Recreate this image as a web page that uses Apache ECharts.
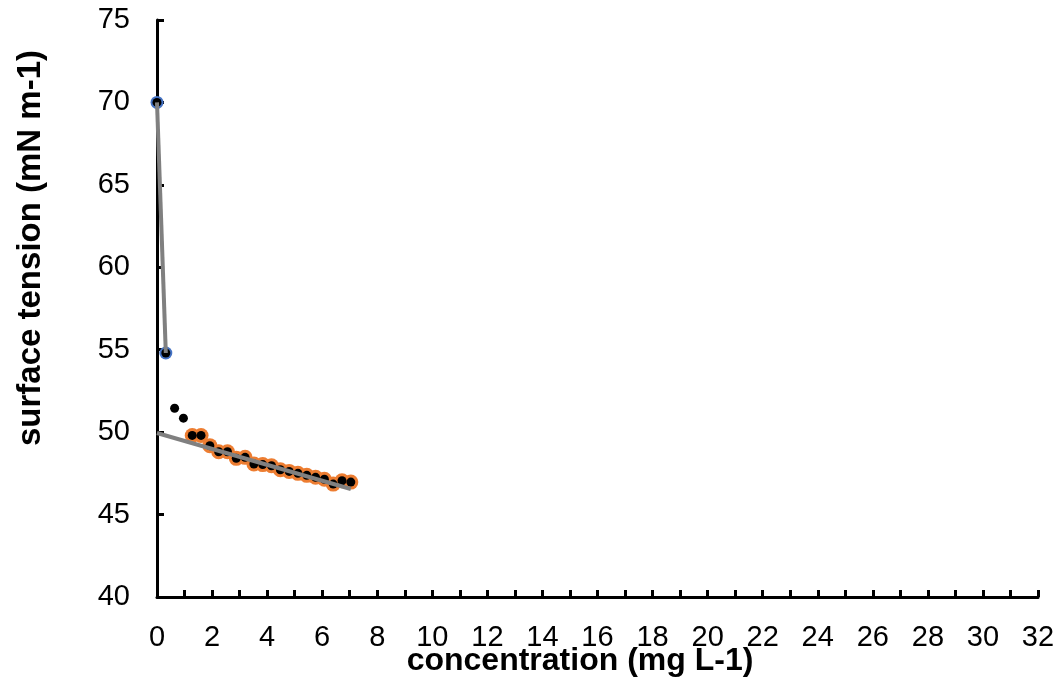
<!DOCTYPE html>
<html>
<head>
<meta charset="utf-8">
<title>surface tension</title>
<script src="https://cdn.jsdelivr.net/npm/echarts@6/dist/echarts.min.js"></script>
<style>
  html, body { margin: 0; padding: 0; background: #fff; }
  #chart { width: 1062px; height: 677px; }
</style>
</head>
<body>
<div id="chart"></div>
<script>
// measured points (mg L-1 , mN m-1)
var conc = [0, 0.32, 0.64, 0.96, 1.28, 1.6, 1.92, 2.24, 2.56, 2.88, 3.2, 3.52,
  3.84, 4.16, 4.48, 4.8, 5.12, 5.44, 5.76, 6.08, 6.4, 6.72, 7.04];
var tension = [70.0, 54.8, 51.45, 50.85, 49.8, 49.8, 49.18, 48.81, 48.81, 48.41,
  48.47, 48.07, 48.03, 47.96, 47.72, 47.62, 47.5, 47.38, 47.26, 47.14, 46.85,
  47.05, 46.97];
// which points were used for each fit
var blueIdx = [0, 1];
var orangeIdx = [4, 5, 6, 7, 8, 9, 10, 11, 12, 13, 14, 15, 16, 17, 18, 19, 20, 21, 22];
// fit lines (start / end)
var fitSteep = [[0, 70.0], [0.32, 54.8]];
var fitFlat = [[0, 49.95], [7.04, 46.55]];

var font = "'Liberation Sans', Arial, sans-serif";

function pick(idx) {
  var out = [];
  for (var i = 0; i < idx.length; i++) {
    out.push([conc[idx[i]], tension[idx[i]]]);
  }
  return out;
}
var allPts = [];
for (var i = 0; i < conc.length; i++) {
  allPts.push([conc[i], tension[i]]);
}

var chart = echarts.init(document.getElementById("chart"));
var option = {
  animation: false,
  backgroundColor: "#fff",
  grid: { left: 157, right: 24, top: 20, bottom: 80 },
  xAxis: {
    type: "value",
    min: 0,
    max: 32,
    interval: 1,
    splitLine: { show: false },
    axisLine: { lineStyle: { color: "#000", width: 3 } },
    axisTick: { inside: true, length: 7, lineStyle: { color: "#000", width: 3 } },
    axisLabel: {
      margin: 26,
      color: "#000",
      fontSize: 29,
      fontFamily: font,
      formatter: function (v) {
        return v % 2 === 0 ? String(v) : "";
      }
    }
  },
  yAxis: {
    type: "value",
    min: 40,
    max: 75,
    interval: 5,
    splitLine: { show: false },
    axisLine: { lineStyle: { color: "#000", width: 3 } },
    axisTick: { inside: true, length: 7, lineStyle: { color: "#000", width: 3 } },
    axisLabel: {
      margin: 27,
      color: "#000",
      fontSize: 29,
      fontFamily: font
    }
  },
  graphic: [
    {
      type: "text",
      x: 31,
      y: 248,
      rotation: Math.PI / 2,
      style: {
        text: "surface tension (mN m-1)",
        font: "bold 33px " + font,
        fill: "#000",
        textAlign: "center",
        textVerticalAlign: "middle"
      }
    },
    {
      type: "text",
      x: 580,
      y: 661,
      style: {
        text: "concentration (mg L-1)",
        font: "bold 32px " + font,
        fill: "#000",
        textAlign: "center",
        textVerticalAlign: "middle"
      }
    }
  ],
  series: [
    {
      type: "line",
      data: fitSteep,
      symbol: "none",
      lineStyle: { color: "#808080", width: 4 },
      silent: true
    },
    {
      type: "line",
      data: fitFlat,
      symbol: "none",
      lineStyle: { color: "#808080", width: 4 },
      silent: true
    },
    {
      type: "scatter",
      data: pick(blueIdx),
      symbolSize: 13,
      itemStyle: { color: "#4472C4", opacity: 1 }
    },
    {
      type: "scatter",
      data: pick(orangeIdx),
      symbolSize: 15,
      itemStyle: { color: "#ED7D31", opacity: 1 }
    },
    {
      type: "scatter",
      data: allPts,
      symbolSize: 9,
      itemStyle: { color: "#000", opacity: 1 }
    }
  ]
};
chart.setOption(option);
</script>
</body>
</html>
